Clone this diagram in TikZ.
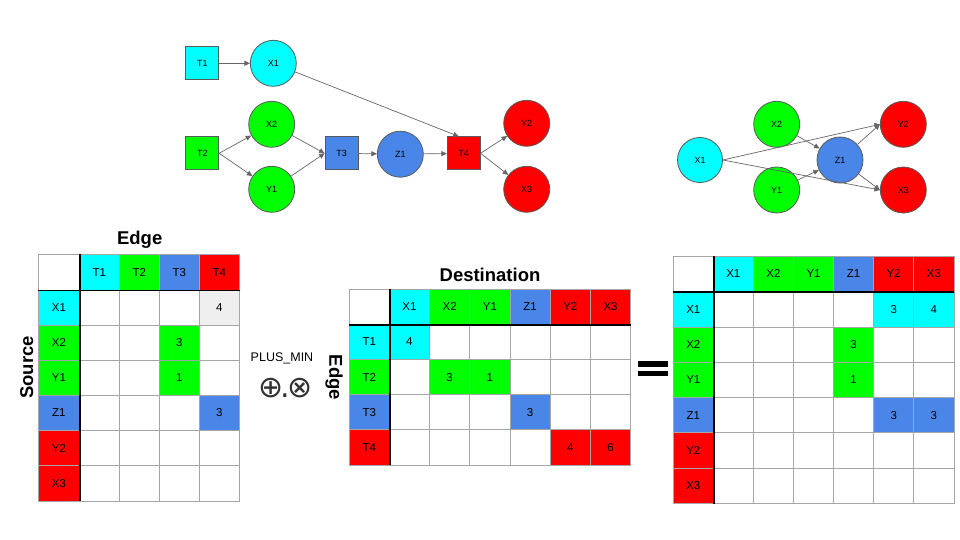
\documentclass[tikz,border=0pt]{standalone}
\usepackage{fontspec}
\setmainfont{Liberation Sans}
\newfontfamily\symfont{DejaVu Sans}
\usetikzlibrary{arrows.meta,calc}
\definecolor{cyanc}{HTML}{00FFFF}
\definecolor{greenc}{HTML}{00FF00}
\definecolor{bluec}{HTML}{4A86E8}
\definecolor{redc}{HTML}{FF0000}
\definecolor{lgray}{HTML}{EFEFEF}
\definecolor{gridc}{HTML}{A6A6A6}
\definecolor{bordc}{HTML}{595959}
\definecolor{arrc}{HTML}{666666}
\begin{document}
\begin{tikzpicture}[x=1pt,y=-1pt,
 sq/.style={draw=bordc, line width=0.8pt, minimum size=33pt, inner sep=0pt, font=\fontsize{9}{10}\selectfont},
 circ/.style={circle, draw=bordc, line width=0.8pt, minimum size=46pt, inner sep=0pt, font=\fontsize{9}{10}\selectfont},
 arr/.style={draw=arrc, line width=0.7pt, -{Triangle[length=5.5pt,width=5pt]}},
 cell/.style={draw=gridc, line width=0.8pt, inner sep=0pt, font=\fontsize{11.5}{13}\selectfont},
 sepline/.style={black, line width=1.8pt},
 titletext/.style={font=\bfseries\fontsize{18.5}{21}\selectfont}
]
\useasboundingbox (0,0) rectangle (960,540);

% ---------- top-left graph ----------
\node[sq, fill=cyanc] (gT1) at (202.3,63.3) {T1};
\node[circ, fill=cyanc] (gX1) at (273.3,63.3) {X1};
\node[sq, fill=greenc] (gT2) at (202.3,153.3) {T2};
\node[circ, fill=greenc] (gX2) at (271.7,124.3) {X2};
\node[circ, fill=greenc] (gY1) at (271.7,189.3) {Y1};
\node[sq, fill=bluec] (gT3) at (341.5,153.3) {T3};
\node[circ, fill=bluec] (gZ1) at (400.3,154.2) {Z1};
\node[sq, fill=redc] (gT4) at (463.7,153.3) {T4};
\node[circ, fill=redc] (gY2) at (526.7,123.3) {Y2};
\node[circ, fill=redc] (gX3) at (526.7,189.3) {X3};
\draw[arr] (gT1) -- (gX1);
\draw[arr] (gX1) -- ([xshift=-5pt]gT4.north);
\draw[arr] (gT2.east) -- (gX2);
\draw[arr] (gT2.east) -- (gY1);
\draw[arr] (gX2) -- (gT3.west);
\draw[arr] (gY1) -- (gT3.west);
\draw[arr] (gT3) -- (gZ1);
\draw[arr] (gZ1) -- (gT4);
\draw[arr] (gT4.east) -- (gY2);
\draw[arr] (gT4.east) -- (gX3);

% ---------- top-right graph ----------
\node[circ, fill=cyanc, minimum size=45pt] (hX1) at (700,160) {X1};
\node[circ, fill=greenc] (hX2) at (776.7,124.3) {X2};
\node[circ, fill=greenc] (hY1) at (776.7,190) {Y1};
\node[circ, fill=bluec] (hZ1) at (840,160) {Z1};
\node[circ, fill=redc] (hY2) at (903.3,124.3) {Y2};
\node[circ, fill=redc] (hX3) at (903.3,190) {X3};
\draw[arr] (hX1.east) -- (hY2.west);
\draw[arr] (hX1.east) -- (hX3.west);
\draw[arr] (hX2) -- (hZ1);
\draw[arr] (hY1) -- (hZ1);
\draw[arr] (hZ1) -- (hY2.west);
\draw[arr] (hZ1) -- (hX3.west);

% ---------- left matrix ----------
\node[titletext] (tEdge) at (139.7,240) {Edge};
\node[titletext, rotate=90] (tSource) at (26.7,367.5) {Source};
\node[cell, fill=white, minimum width=40.8pt, minimum height=35.6pt] (L00) at (58.9,272.2) {};
\foreach \t/\c [count=\i] in {T1/cyanc,T2/greenc,T3/bluec,T4/redc}
  \node[cell, fill=\c, minimum width=40pt, minimum height=35.6pt] (L0\i) at ({79.3+40*\i-20},272.2) {\t};
\foreach \t/\c [count=\j] in {X1/cyanc,X2/greenc,Y1/greenc,Z1/bluec,Y2/redc,X3/redc}{
  \node[cell, fill=\c, minimum width=40.8pt, minimum height=35.15pt] (L\j0) at (58.9,{290+35.15*\j-17.575}) {\t};
  \foreach \i in {1,...,4}
    \node[cell, fill=white, minimum width=40pt, minimum height=35.15pt] (L\j\i) at ({79.3+40*\i-20},{290+35.15*\j-17.575}) {};
}
\foreach \j/\i/\c/\v in {1/4/lgray/4,2/3/greenc/3,3/3/greenc/1,4/4/bluec/3}
  \node[cell, fill=\c, minimum width=40pt, minimum height=35.15pt] (Lv\j\i) at (L\j\i) {\v};
\draw[sepline] (L00.south west) -- (L04.south east);
\draw[sepline] (L00.north east) -- (L60.south east);

% ---------- operator ----------
\node[font=\fontsize{12.5}{14}\selectfont] (opname) at (282,358) {PLUS\_MIN};
\node[font=\symfont\fontsize{30}{32}\selectfont, text=black!80, inner sep=0pt] (opsym) at (285.7,388.5) {⊕\kern-3pt.\kern-3pt⊗};

% ---------- middle matrix ----------
\node[titletext] (tDest) at (490,274.5) {Destination};
\node[titletext, rotate=-90] (tEdge2) at (334,377.5) {Edge};
\node[cell, fill=white, minimum width=40pt, minimum height=35pt] (M00) at (369.3,306.8) {};
\foreach \t/\c [count=\i] in {X1/cyanc,X2/greenc,Y1/greenc,Z1/bluec,Y2/redc,X3/redc}
  \node[cell, fill=\c, minimum width=40.23pt, minimum height=35pt] (M0\i) at ({389.3+40.23*\i-20.115},306.8) {\t};
\foreach \t/\c [count=\j] in {T1/cyanc,T2/greenc,T3/bluec,T4/redc}{
  \node[cell, fill=\c, minimum width=40pt, minimum height=35.17pt] (M\j0) at (369.3,{324.3+35.17*\j-17.585}) {\t};
  \foreach \i in {1,...,6}
    \node[cell, fill=white, minimum width=40.23pt, minimum height=35.17pt] (M\j\i) at ({389.3+40.23*\i-20.115},{324.3+35.17*\j-17.585}) {};
}
\foreach \j/\i/\c/\v in {1/1/cyanc/4,2/2/greenc/3,2/3/greenc/1,3/4/bluec/3,4/5/redc/4,4/6/redc/6}
  \node[cell, fill=\c, minimum width=40.23pt, minimum height=35.17pt] (Mv\j\i) at (M\j\i) {\v};
\draw[sepline] (M00.south west) -- (M06.south east);
\draw[sepline] (M00.north east) -- (M40.south east);

% ---------- equals ----------
\fill[black] (638.3,361) rectangle (668.3,366.7);
\fill[black] (638.3,370.7) rectangle (668.3,376);

% ---------- right matrix ----------
\node[cell, fill=white, minimum width=40pt, minimum height=35.7pt] (R00) at (693.3,273.85) {};
\foreach \t/\c [count=\i] in {X1/cyanc,X2/greenc,Y1/greenc,Z1/bluec,Y2/redc,X3/redc}
  \node[cell, fill=\c, minimum width=40.1pt, minimum height=35.7pt] (R0\i) at ({713.3+40.1*\i-20.05},273.85) {\t};
\foreach \t/\c [count=\j] in {X1/cyanc,X2/greenc,Y1/greenc,Z1/bluec,Y2/redc,X3/redc}{
  \node[cell, fill=\c, minimum width=40pt, minimum height=35.27pt] (R\j0) at (693.3,{291.7+35.27*\j-17.635}) {\t};
  \foreach \i in {1,...,6}
    \node[cell, fill=white, minimum width=40.1pt, minimum height=35.27pt] (R\j\i) at ({713.3+40.1*\i-20.05},{291.7+35.27*\j-17.635}) {};
}
\foreach \j/\i/\c/\v in {1/5/cyanc/3,1/6/cyanc/4,2/4/greenc/3,3/4/greenc/1,4/5/bluec/3,4/6/bluec/3}
  \node[cell, fill=\c, minimum width=40.1pt, minimum height=35.27pt] (Rv\j\i) at (R\j\i) {\v};
\draw[sepline] (R00.south west) -- (R06.south east);
\draw[sepline] (R00.north east) -- (R60.south east);
\end{tikzpicture}
\end{document}
